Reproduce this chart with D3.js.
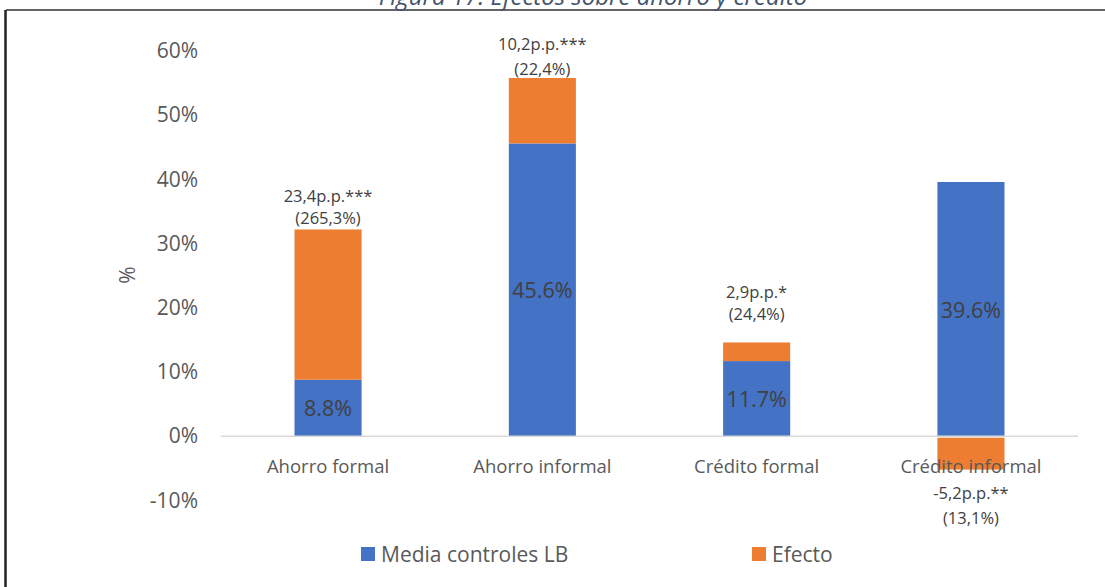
<!DOCTYPE html>
<html>
<head>
<meta charset="utf-8">
<script src="https://cdn.jsdelivr.net/npm/d3@7"></script>
<style>
  body { margin: 0; background: #fff; }
  text { font-family: "Open Sans", "Noto Sans", sans-serif; }
</style>
</head>
<body>
<div id="chart"></div>
<script>
// chart data
var categories = ["Ahorro formal", "Ahorro informal", "Crédito formal", "Crédito informal"];
var mediaControles = [8.8, 45.6, 11.7, 39.6];
var efecto = [23.4, 10.2, 2.9, -5.2];
var efectoPP = ["23,4p.p.***", "10,2p.p.***", "2,9p.p.*", "-5,2p.p.**"];
var efectoPct = ["(265,3%)", "(22,4%)", "(24,4%)", "(13,1%)"];
var yTicks = [-10, 0, 10, 20, 30, 40, 50, 60];
var seriesNames = ["Media controles LB", "Efecto"];

// label offsets (px from bar end), as placed in the original
var labelGap = [12, 9, 29, 23];
var lineGap = [22, 25, 22, 25];

var width = 1105,
    height = 587;

var blue = '#4472C4',
    orange = '#ED7D31';

var svg = d3.select('#chart')
    .append('svg')
    .attr('width', width)
    .attr('height', height);

// frame
svg.append('line')
    .attr('x1', 6).attr('x2', width)
    .attr('y1', 10).attr('y2', 10)
    .attr('stroke', '#333').attr('stroke-width', 1.5);
svg.append('line')
    .attr('x1', 5.5).attr('x2', 5.5)
    .attr('y1', 10).attr('y2', height)
    .attr('stroke', '#222').attr('stroke-width', 2.5);

// title, cut by the top of the page
svg.append('text')
    .attr('x', 593)
    .attr('y', 5)
    .attr('text-anchor', 'middle')
    .attr('font-style', 'italic')
    .attr('font-size', 24)
    .attr('fill', '#44546A')
    .text('Figura 17: Efectos sobre ahorro y crédito');

var x = d3.scaleBand()
    .domain(categories)
    .range([221, 1078])
    .paddingInner(0.687)
    .paddingOuter(0.343);

var y = d3.scaleLinear()
    .domain([-10, 60])
    .range([500.4, 51]);

// y axis labels
var yAxis = svg.append('g')
    .attr('transform', 'translate(198,0)')
    .call(d3.axisLeft(y).tickValues(yTicks).tickSize(0).tickPadding(0)
        .tickFormat(function (d) { return d + '%'; }));
yAxis.select('.domain').remove();
yAxis.selectAll('text')
    .attr('font-size', 21)
    .attr('fill', '#595959')
    .attr('font-family', '"Open Sans", sans-serif');

svg.append('text')
    .attr('transform', 'translate(127,275) rotate(-90)')
    .attr('text-anchor', 'middle')
    .attr('dominant-baseline', 'central')
    .attr('font-size', 21)
    .attr('fill', '#595959')
    .text('%');

var rows = categories.map(function (c, i) {
    return {cat: c, media: mediaControles[i], efecto: efecto[i], i: i};
});

// blue base
svg.selectAll('.media')
    .data(rows)
    .enter()
    .append('rect')
    .attr('class', 'media')
    .attr('x', function (d) { return x(d.cat); })
    .attr('width', x.bandwidth())
    .attr('y', function (d) { return y(d.media); })
    .attr('height', function (d) { return y(0) - y(d.media); })
    .attr('fill', blue);

// orange effect, stacked on top (or below zero when negative)
svg.selectAll('.efecto')
    .data(rows)
    .enter()
    .append('rect')
    .attr('class', 'efecto')
    .attr('x', function (d) { return x(d.cat); })
    .attr('width', x.bandwidth())
    .attr('y', function (d) {
        return d.efecto >= 0 ? y(d.media + d.efecto) : y(0) + 1.5;
    })
    .attr('height', function (d) {
        return d.efecto >= 0 ? y(d.media) - y(d.media + d.efecto)
                             : y(d.efecto) - y(0) - 1.5;
    })
    .attr('fill', orange);

// zero line
svg.append('line')
    .attr('x1', 221).attr('x2', 1078)
    .attr('y1', y(0)).attr('y2', y(0))
    .attr('stroke', '#D9D9D9').attr('stroke-width', 1.5);

// value labels inside the blue bars
svg.selectAll('.media-label')
    .data(rows)
    .enter()
    .append('text')
    .attr('class', 'media-label')
    .attr('x', function (d) { return x(d.cat) + x.bandwidth() / 2; })
    .attr('y', function (d) { return (y(0) + y(d.media)) / 2; })
    .attr('text-anchor', 'middle')
    .attr('dominant-baseline', 'central')
    .attr('font-size', 21.5)
    .attr('fill', '#404040')
    .text(function (d) { return d.media.toFixed(1) + '%'; });

// effect labels, two lines
rows.forEach(function (d) {
    var cx = x(d.cat) + x.bandwidth() / 2;
    var l1, l2;
    if (d.efecto >= 0) {
        var top = y(d.media + d.efecto);
        l2 = top - labelGap[d.i];
        l1 = l2 - lineGap[d.i];
    } else {
        var bottom = y(d.efecto);
        l1 = bottom + labelGap[d.i];
        l2 = l1 + lineGap[d.i];
    }
    [[efectoPP[d.i], l1], [efectoPct[d.i], l2]].forEach(function (t) {
        svg.append('text')
            .attr('x', cx)
            .attr('y', t[1])
            .attr('text-anchor', 'middle')
            .attr('dominant-baseline', 'central')
            .attr('font-size', 16.5)
            .attr('fill', '#404040')
            .text(t[0]);
    });
});

// category labels
svg.selectAll('.cat-label')
    .data(categories)
    .enter()
    .append('text')
    .attr('class', 'cat-label')
    .attr('x', function (d) { return x(d) + x.bandwidth() / 2; })
    .attr('y', 465)
    .attr('text-anchor', 'middle')
    .attr('dominant-baseline', 'central')
    .attr('font-size', 18.5)
    .attr('fill', '#595959')
    .text(function (d) { return d; });

// legend
var legendX = [361, 752];
var legend = svg.selectAll('.legend')
    .data(seriesNames)
    .enter()
    .append('g')
    .attr('class', 'legend')
    .attr('transform', function (d, i) { return 'translate(' + legendX[i] + ',547)'; });
legend.append('rect')
    .attr('width', 14)
    .attr('height', 14)
    .attr('fill', function (d, i) { return i === 0 ? blue : orange; });
legend.append('text')
    .attr('x', 20)
    .attr('y', 7)
    .attr('dominant-baseline', 'central')
    .attr('font-size', 21)
    .attr('fill', '#595959')
    .text(function (d) { return d; });
</script>
</body>
</html>
